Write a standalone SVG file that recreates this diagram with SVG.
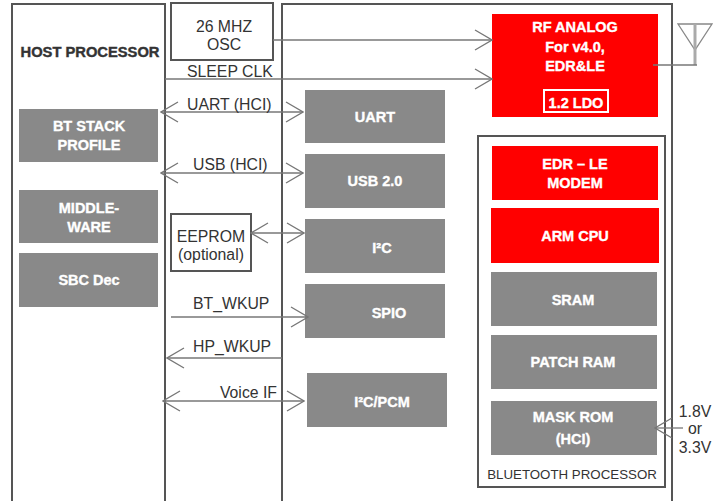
<svg xmlns="http://www.w3.org/2000/svg" width="724" height="501" viewBox="0 0 724 501">
<style>
.frame{fill:#fff;stroke:#555;stroke-width:2}
.gbox{fill:#898989}
.rbox{fill:#ff0000}
.bl{font-family:"Liberation Sans",Arial,sans-serif;font-weight:bold;font-size:14.5px;fill:#fff;stroke:#fff;stroke-width:0.35;text-anchor:middle}
.lbl{font-family:"Liberation Sans",Arial,sans-serif;font-size:15.8px;fill:#333}
.ln{stroke:#777;stroke-width:1.3;fill:none}
</style>
<defs>
<marker id="ah" viewBox="0 0 19 22" refX="18" refY="11" markerWidth="19" markerHeight="22" markerUnits="userSpaceOnUse" orient="auto-start-reverse">
<path d="M1,1 L18,11 L1,21" fill="none" stroke="#777" stroke-width="1.3"/>
</marker>
</defs>
<rect width="724" height="501" fill="#fff"/>

<g id="host-processor">
<rect class="frame" x="12" y="4" width="153" height="510"/>
<text x="90" y="57" font-family="Liberation Sans,Arial,sans-serif" font-weight="bold" font-size="14" fill="#333" stroke="#333" stroke-width="0.4" text-anchor="middle" textLength="139" lengthAdjust="spacingAndGlyphs">HOST PROCESSOR</text>
</g>
<g id="bt-stack">
<rect class="gbox" x="19" y="109" width="139" height="53"/>
<text class="bl" x="89" y="131">BT STACK</text>
<text class="bl" x="89" y="150">PROFILE</text>
</g>
<g id="middleware">
<rect class="gbox" x="19" y="190" width="139" height="53"/>
<text class="bl" x="89" y="213">MIDDLE-</text>
<text class="bl" x="89" y="232">WARE</text>
</g>
<g id="sbc-dec">
<rect class="gbox" x="19" y="253" width="139" height="54"/>
<text class="bl" x="89" y="285">SBC Dec</text>
</g>

<g id="osc">
<rect class="frame" x="171" y="3" width="102" height="57"/>
<text class="lbl" x="224" y="32" text-anchor="middle">26 MHZ</text>
<text class="lbl" x="224" y="50" text-anchor="middle">OSC</text>
</g>
<g id="eeprom">
<rect class="frame" x="171" y="214" width="80" height="57"/>
<text class="lbl" x="211" y="242" text-anchor="middle">EEPROM</text>
<text class="lbl" x="211" y="260" text-anchor="middle">(optional)</text>
</g>

<g id="bt-chip">
<rect class="frame" x="282" y="4" width="390" height="510"/>
</g>
<g id="uart">
<rect class="gbox" x="305" y="90" width="140" height="53"/>
<text class="bl" x="375" y="122">UART</text>
</g>
<g id="usb">
<rect class="gbox" x="305" y="154" width="140" height="54"/>
<text class="bl" x="375" y="186">USB 2.0</text>
</g>
<g id="i2c">
<rect class="gbox" x="305" y="219" width="140" height="54"/>
<text class="bl" x="382" y="253">I²C</text>
</g>
<g id="spio">
<rect class="gbox" x="305" y="284" width="140" height="54"/>
<text class="bl" x="389" y="318">SPIO</text>
</g>
<g id="i2c-pcm">
<rect class="gbox" x="307" y="373" width="140" height="54"/>
<text class="bl" x="382" y="407">I²C/PCM</text>
</g>

<g id="rf-analog">
<rect class="rbox" x="492" y="14" width="166" height="103"/>
<text class="bl" x="575" y="32">RF ANALOG</text>
<text class="bl" x="575" y="52">For  v4.0,</text>
<text class="bl" x="575" y="71">EDR&amp;LE</text>
<rect x="544" y="90" width="64" height="22" fill="none" stroke="#fff" stroke-width="2"/>
<text class="bl" x="576" y="108">1.2 LDO</text>
</g>

<g id="bluetooth-processor">
<rect class="frame" x="478" y="136" width="187" height="351"/>
<text x="572" y="479" font-family="Liberation Sans,Arial,sans-serif" font-size="13.3" fill="#333" text-anchor="middle">BLUETOOTH PROCESSOR</text>
</g>
<g id="modem">
<rect class="rbox" x="492" y="146" width="166" height="54"/>
<text class="bl" x="575" y="169">EDR – LE</text>
<text class="bl" x="575" y="188">MODEM</text>
</g>
<g id="arm-cpu">
<rect class="rbox" x="491" y="208" width="168" height="55"/>
<text class="bl" x="575" y="241">ARM CPU</text>
</g>
<g id="sram">
<rect class="gbox" x="491" y="272" width="166" height="54"/>
<text class="bl" x="573" y="305">SRAM</text>
</g>
<g id="patch-ram">
<rect class="gbox" x="491" y="335" width="166" height="54"/>
<text class="bl" x="573" y="367">PATCH RAM</text>
</g>
<g id="mask-rom">
<rect class="gbox" x="491" y="401" width="166" height="54"/>
<text class="bl" x="573" y="422">MASK ROM</text>
<text class="bl" x="573" y="444">(HCI)</text>
</g>

<g id="antenna">
<path d="M678,24 L712,24 L695,50 Z" fill="none" stroke="#888" stroke-width="1.3"/>
<line x1="695" y1="24" x2="695" y2="65" stroke="#aaa" stroke-width="3"/>
</g>

<g id="connectors">
<line class="ln" x1="273" y1="40" x2="492" y2="40" marker-end="url(#ah)"/>
<line class="ln" x1="165" y1="79" x2="492" y2="79" marker-end="url(#ah)"/>
<line class="ln" x1="161" y1="112" x2="303" y2="112" marker-start="url(#ah)" marker-end="url(#ah)"/>
<line class="ln" x1="161" y1="173" x2="303" y2="173" marker-start="url(#ah)" marker-end="url(#ah)"/>
<line class="ln" x1="251" y1="233" x2="304" y2="233" marker-start="url(#ah)" marker-end="url(#ah)"/>
<line class="ln" x1="171" y1="317" x2="308" y2="317" marker-end="url(#ah)"/>
<line class="ln" x1="282" y1="358" x2="167" y2="358" marker-end="url(#ah)"/>
<line class="ln" x1="163" y1="401" x2="304" y2="401" marker-start="url(#ah)" marker-end="url(#ah)"/>
<line class="ln" x1="653" y1="65" x2="697" y2="65"/>
<line class="ln" x1="683" y1="428" x2="655" y2="428" marker-end="url(#ah)"/>
</g>

<g id="labels">
<text class="lbl" x="187" y="77">SLEEP CLK</text>
<text class="lbl" x="187" y="110">UART (HCI)</text>
<text class="lbl" x="193" y="170">USB (HCI)</text>
<text class="lbl" x="193" y="309">BT_WKUP</text>
<text class="lbl" x="193" y="352">HP_WKUP</text>
<text class="lbl" x="277" y="398" text-anchor="end">Voice IF</text>
<text class="lbl" x="695" y="417" text-anchor="middle">1.8V</text>
<text class="lbl" x="695" y="434" text-anchor="middle">or</text>
<text class="lbl" x="695" y="453" text-anchor="middle">3.3V</text>
</g>
</svg>
